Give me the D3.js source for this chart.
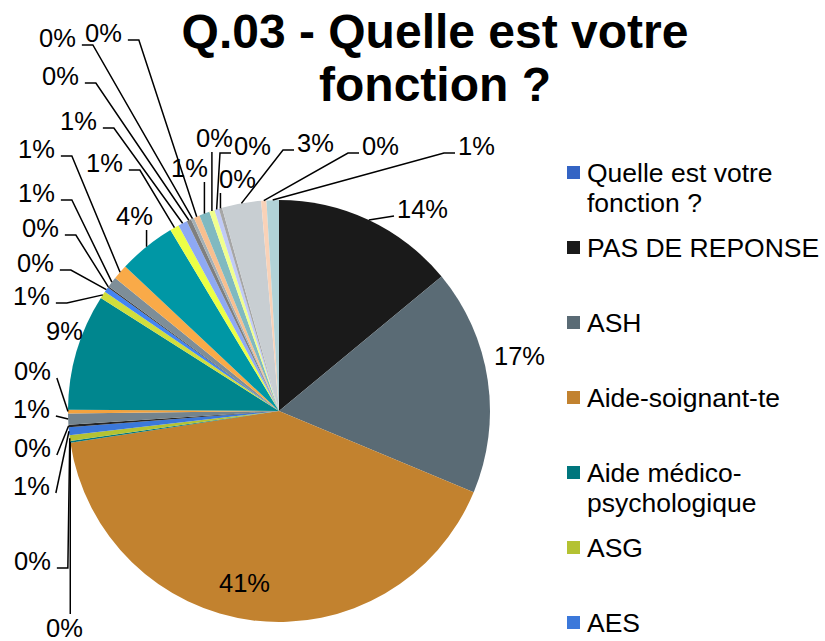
<!DOCTYPE html>
<html><head><meta charset="utf-8">
<script src="https://cdn.jsdelivr.net/npm/d3@7/dist/d3.min.js"></script>
<style>body{margin:0;background:#fff}svg{display:block}</style>
</head><body>
<svg id="chart" width="825" height="641"></svg>
<script>
// ---------- data ----------
const titleLines = ["Q.03 - Quelle est votre", "fonction ?"];
const categories = [
  "Quelle est votre fonction ?", "PAS DE REPONSE", "ASH", "Aide-soignant-te",
  "Aide médico-psychologique", "ASG", "AES",
  "Autre fonction 8", "Autre fonction 9", "Autre fonction 10", "Autre fonction 11",
  "Autre fonction 12", "Autre fonction 13", "Autre fonction 14", "Autre fonction 15",
  "Autre fonction 16", "Autre fonction 17", "Autre fonction 18", "Autre fonction 19",
  "Autre fonction 20", "Autre fonction 21", "Autre fonction 22", "Autre fonction 23",
  "Autre fonction 24", "Autre fonction 25", "Autre fonction 26", "Autre fonction 27",
  "Autre fonction 28", "Autre fonction 29"
];
// share of respondents (%)
const values = [
  0, 14.0, 17.3, 41.3,
  0.12, 0.45, 0.6, 0.2, 0.85, 0.28,
  8.9,
  0.55, 0.4, 0.1, 0.8, 1.15,
  4.4,
  0.7, 0.7, 0.35, 0.25, 0.45, 0.8, 0.4, 0.35, 0.25,
  3.0, 0.4, 0.95
];
const legendCount = 7; // the legend box only shows the first entries

// ---------- styles / layout ----------
const colors = [
  "#3464C4", "#1A1A1A", "#5A6B75", "#C2822F", "#00767D", "#B4C232",
  "#3B78DA", "#262626", "#74848E", "#F3A23E", "#00868E", "#D0DE3C",
  "#4384F2", "#333333", "#7E8E98", "#F9AA48", "#0097A5", "#ECFF45",
  "#8EA9F3", "#7F7F7F", "#A3B0B7", "#F8BF8F", "#80B9C0", "#F0FF8E",
  "#C0CAF6", "#A6A6A6", "#C8CED2", "#F9D2B8", "#B1D2D7"
];
// data-label placement: [x of text start, baseline, leader mode]  n=none d=direct t=elbow
const labelLayout = [
  null,
  [397, 218, "d"], [494, 365, "n"], [219, 592, "n"],
  [46, 637, "d"], [14, 570, "t"], [13, 495, "d"], [14, 457, "d"], [13, 418, "d"], [14, 380, "d"],
  [46, 340, "n"],
  [13, 305, "t"], [17, 272, "t"], [22, 237, "t"], [18, 202, "t"], [18, 158, "t"],
  [116, 225, "d"],
  [86, 172, "t"], [60, 130, "t"], [42, 85, "t"], [39, 47, "t"], [85, 42, "t"],
  [171, 177, "d"], [196, 147, "d"], [234, 155, "t"], [219, 188, "d"],
  [297, 152, "t"], [362, 155, "t"], [458, 155, "t"]
];

const FONT = "'Liberation Sans', Arial, Helvetica, sans-serif";
const cx = 279, cy = 411, R = 211;

const svg = d3.select("#chart");

// title
svg.append("text")
  .attr("x", 435).attr("text-anchor", "middle")
  .style("font-family", FONT).style("font-weight", "bold").style("font-size", "48px")
  .attr("fill", "#000")
  .selectAll("tspan").data(titleLines).join("tspan")
  .attr("x", 435).attr("y", (d, i) => 48 + i * 53).text(d => d);

// pie
const total = d3.sum(values);
const pie = d3.pie().sort(null).value(d => d.v).startAngle(0).endAngle(2 * Math.PI);
const arcs = pie(values.map((v, i) => ({ v, i, name: categories[i] })));
const arc = d3.arc().innerRadius(0).outerRadius(R);
const edge = d3.arc().innerRadius(R).outerRadius(R);

const g = svg.append("g").attr("transform", `translate(${cx},${cy})`);
g.selectAll("path.slice").data(arcs).join("path")
  .attr("class", "slice")
  .attr("d", arc)
  .attr("fill", d => colors[d.data.i]);

// labels
const lab = svg.append("g");
const leaders = svg.append("g");
arcs.forEach(d => {
  const L = labelLayout[d.data.i];
  if (!L || d.data.v === 0) return;
  const txt = Math.round(d.data.v / total * 100) + "%";
  const t = lab.append("text")
    .attr("x", L[0]).attr("y", L[1])
    .style("font-family", FONT).style("font-size", "25.5px").attr("fill", "#000")
    .text(txt);
  const w = t.node().getComputedTextLength();
  if (L[2] === "n") return;
  const c = edge.centroid(d);
  const A = [cx + c[0], cy + c[1]];
  const x0 = L[0], x1 = L[0] + w, yb = L[1], yt = L[1] - 18;
  let pts;
  if (A[0] >= x0 && A[0] <= x1) {
    pts = [A, [A[0], A[1] > yb ? yb + 5 : yt - 5]];
  } else {
    const right = A[0] > x1; // label sits left of the anchor
    const T = right ? [x1 + 6, yb - 2] : [x0 - 3, yb - 2];
    if (L[2] === "t") {
      const tick = Math.min(11, Math.abs(A[0] - T[0]));
      const E = [T[0] + (right ? tick : -tick), T[1]];
      pts = [A, E, T];
    } else {
      pts = [A, T];
    }
  }
  leaders.append("path")
    .attr("d", d3.line()(pts))
    .attr("fill", "none").attr("stroke", "#000").attr("stroke-width", 1.5);
});

// legend
const leg = svg.append("g");
const legItems = arcs.slice(0, legendCount);
const maxW = 236;
function wrap(name) {
  const tokens = name.replace(/-/g, "-\u0001").split(/(?<=\s)|\u0001/).filter(s => s.length);
  const probe = leg.append("text").style("font-family", FONT).style("font-size", "26.5px");
  const lines = [];
  let cur = "";
  tokens.forEach(tok => {
    const test = cur + tok;
    probe.text(test.trim());
    if (cur && probe.node().getComputedTextLength() > maxW) {
      lines.push(cur.trim()); cur = tok;
    } else cur = test;
  });
  if (cur) lines.push(cur.trim());
  probe.remove();
  return lines;
}
legItems.forEach((d, k) => {
  const by = 182 + k * 75;
  leg.append("rect")
    .attr("x", 567).attr("y", by - 16).attr("width", 13).attr("height", 13)
    .attr("fill", colors[d.data.i]);
  const lines = wrap(d.data.name);
  leg.append("text")
    .style("font-family", FONT).style("font-size", "26.5px").attr("fill", "#000")
    .selectAll("tspan").data(lines).join("tspan")
    .attr("x", 587).attr("y", (s, j) => by + j * 30).text(s => s);
});
</script>
</body></html>
